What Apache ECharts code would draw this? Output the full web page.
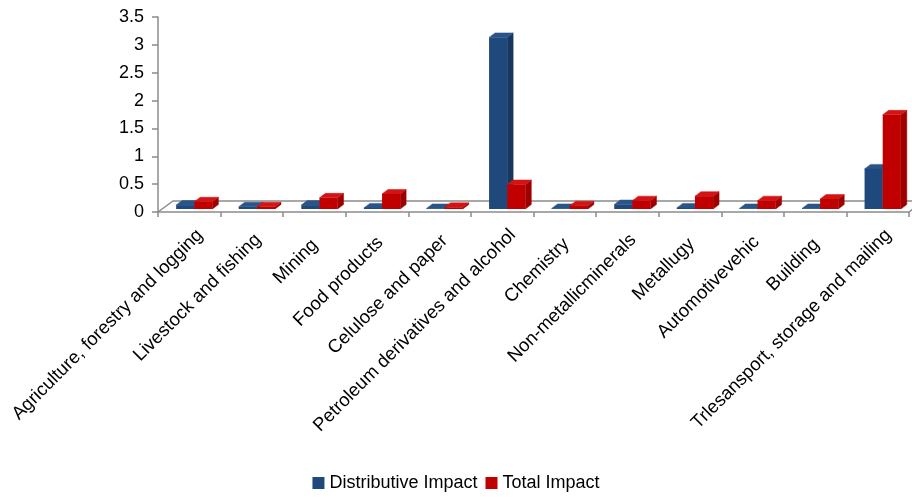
<!DOCTYPE html>
<html lang="en">
<head>
    <meta charset="UTF-8">
    <title>Impact</title>
    <script src="https://cdn.jsdelivr.net/npm/echarts@6/dist/echarts.min.js"></script>
</head>
<style>
html,body{margin:0;padding:0;background-color:#ffffff}
#chartBox{width:912px;height:499px}
</style>
<body>
    <div id="chartBox"></div>
</body>
<script>
// data
const categories = ['Agriculture, forestry and logging', 'Livestock and fishing', 'Mining', 'Food products',
    'Celulose and paper', 'Petroleum derivatives and alcohol', 'Chemistry', 'Non-metallicminerals',
    'Metallugy', 'Automotivevehic', 'Building', 'Trlesansport, storage and mailing'];
const distributiveImpact = [0.07, 0.04, 0.07, 0.02, 0.01, 3.08, 0.01, 0.08, 0.02, 0.01, 0.01, 0.72];
const totalImpact = [0.13, 0.04, 0.2, 0.27, 0.03, 0.44, 0.06, 0.15, 0.23, 0.15, 0.18, 1.69];

const BLUE = {front: '#1f497d', top: '#2a5588', side: '#17375e'};
const RED = {front: '#c00000', top: '#d41414', side: '#9e0000'};
const AXIS = '#8c8c8c';

// 3D look: floor depth and bar depth in px
const FLOOR_DX = 15, FLOOR_DY = -11;
const SHIFT_X = 5, SHIFT_Y = -3;

// rotated labels: longer ones sit further right of the tick centre (like Excel does)
function labelItem(name){
    let s = (0.75 * name.length - 5) - 21;   // horizontal move from the base placement
    let k = s / 1.414;
    return {value: name, textStyle: {padding: [k, -(16 + k), 0, 0]}};
}

function barRenderer(colors, side){
    return function(params, api){
        let idx = api.value(0);
        let base = api.coord([idx, 0]);
        let top = api.coord([idx, api.value(1)]);
        let catW = api.size([1, 0])[0];
        let w = catW * 0.29;
        let dx = catW * 0.095, dy = -4.5;
        let x0 = base[0] + SHIFT_X + (side === 0 ? -w : 0);
        let yb = base[1] + SHIFT_Y, yt = top[1] + SHIFT_Y;
        return {
            type: 'group',
            children: [
                {type: 'polygon', shape: {points: [[x0 + w, yt], [x0 + w + dx, yt + dy], [x0 + w + dx, yb + dy], [x0 + w, yb]]},
                    style: {fill: colors.side, stroke: colors.side, lineWidth: 0.5}},
                {type: 'polygon', shape: {points: [[x0, yt], [x0 + dx, yt + dy], [x0 + w + dx, yt + dy], [x0 + w, yt]]},
                    style: {fill: colors.top, stroke: colors.top, lineWidth: 0.5}},
                {type: 'rect', shape: {x: x0, y: yt, width: w, height: yb - yt},
                    style: {fill: colors.front}}
            ]
        };
    };
}

function floorRenderer(params, api){
    let cs = params.coordSys;
    let x0 = cs.x, y0 = cs.y + cs.height, x1 = cs.x + cs.width;
    return {
        type: 'group',
        children: [
            {type: 'polyline', shape: {points: [[x0, y0], [x0 + FLOOR_DX, y0 + FLOOR_DY], [x1 + FLOOR_DX, y0 + FLOOR_DY]]},
                style: {stroke: AXIS, lineWidth: 1.5, fill: null}},
            {type: 'line', shape: {x1: x1, y1: y0, x2: x1 + FLOOR_DX, y2: y0 + FLOOR_DY},
                style: {stroke: AXIS, lineWidth: 1.5}}
        ]
    };
}

let chartObj = echarts.init(document.getElementById('chartBox'));
let option = {
    animation: false,
    textStyle: {fontFamily: 'Liberation Sans, Arial, sans-serif'},
    grid: {left: 158, right: 3, top: 17, bottom: 287, containLabel: false},
    xAxis: {
        type: 'category',
        data: categories.map(labelItem),
        axisLine: {lineStyle: {color: AXIS, width: 1.5}},
        axisTick: {show: true, length: 5, lineStyle: {color: AXIS, width: 1.5}},
        axisLabel: {interval: 0, rotate: 45, fontSize: 18.5, color: '#000', margin: 31,
            verticalAlign: 'top'}
    },
    yAxis: {
        type: 'value',
        min: 0,
        max: 3.5,
        interval: 0.5,
        axisLine: {show: true, lineStyle: {color: AXIS, width: 1.5}},
        axisTick: {show: true, length: 6, lineStyle: {color: AXIS, width: 1.5}},
        axisLabel: {fontSize: 18, color: '#000', margin: 14},
        splitLine: {show: false}
    },
    legend: {
        bottom: 2,
        left: 'center',
        icon: 'rect',
        itemWidth: 12,
        itemHeight: 12,
        itemGap: 8,
        textStyle: {fontSize: 18, color: '#000'},
        data: ['Distributive Impact', 'Total Impact']
    },
    series: [
        {
            type: 'custom',
            name: 'floor',
            renderItem: floorRenderer,
            data: [[0, 0]],
            z: 1,
            silent: true
        },
        {
            type: 'custom',
            name: 'Distributive Impact',
            itemStyle: {color: BLUE.front},
            renderItem: barRenderer(BLUE, 0),
            encode: {x: 0, y: 1},
            data: distributiveImpact.map((v, i) => [i, v]),
            z: 2
        },
        {
            type: 'custom',
            name: 'Total Impact',
            itemStyle: {color: RED.front},
            renderItem: barRenderer(RED, 1),
            encode: {x: 0, y: 1},
            data: totalImpact.map((v, i) => [i, v]),
            z: 3
        }
    ]
};
chartObj.setOption(option);
</script>
</html>
